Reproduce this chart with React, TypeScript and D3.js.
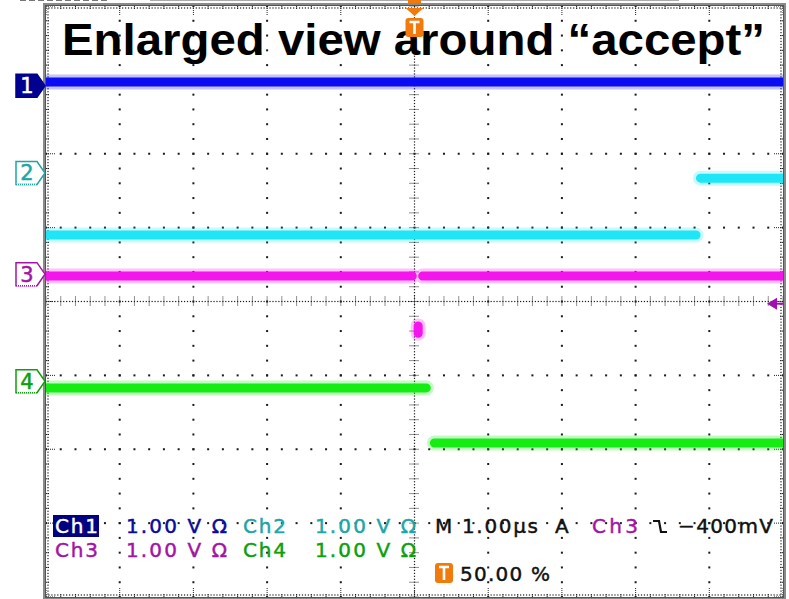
import React, { useEffect, useRef } from 'react';
import * as d3 from 'd3';

const W = 789;
const H = 599;

// time in µs (1 µs/div, trigger at 0), levels in screen divisions from centre
const channelNames = ['Ch1', 'Ch2', 'Ch3', 'Ch4'];
const channelScales = ['1.00 V Ω', '1.00 V Ω', '1.00 V Ω', '1.00 V Ω'];
const groundLevels = [2.92, 1.74, 0.37, -1.08];

const ch1Trace = [[-5, 2.97], [5, 2.97]];
const ch2Trace = [[-5, 0.9], [3.82, 0.9], null, [3.88, 1.67], [5, 1.67]];
const ch3Trace = [[-5, 0.345], [-0.03, 0.345], null, [0.11, 0.345], [5, 0.345], null, [0.05, -0.33], [0.05, -0.43]];
const ch4Trace = [[-5, -1.17], [0.16, -1.17], null, [0.27, -1.915], [5, -1.915]];

const timebase = 'M 1.00µs';
const triggerMode = 'A';
const triggerSource = 'Ch3';
const triggerLevelMv = -400;
const triggerPosition = '50.00 %';
const title = 'Enlarged view around \u201Caccept\u201D';

const traces = [ch1Trace, ch2Trace, ch3Trace, ch4Trace];
const traceColors = ['#0c0cf2', '#1ee6f6', '#f414ec', '#14ec14'];
const textColors = ['#0a0a9c', '#1ea5a8', '#a414a4', '#0ca00c'];
const orange = '#f27a0c';

export default function App() {
    const ref = useRef<SVGSVGElement>(null);

    useEffect(() => {
        const svg = d3.select(ref.current);
        svg.selectAll('*').remove();

        const x = d3.scaleLinear().domain([-5, 5]).range([46, 783]);
        const y = d3.scaleLinear().domain([-4, 4]).range([597, 6]);
        const x0 = x(-5), x1 = x(5), y0 = y(4), y1 = y(-4);

        svg.append('rect').attr('width', W).attr('height', H).attr('fill', '#fff');

        // bit of the scope window frame peeking in at the top
        svg.append('rect').attr('x', 150.5).attr('y', -6).attr('width', 528).attr('height', 6.5)
            .attr('fill', 'none').attr('stroke', '#aaa');
        svg.append('path').attr('d', 'M20,0.5H110').attr('stroke', '#777').attr('stroke-dasharray', '6,3');

        const grid = svg.append('g');
        const minorX = d3.range(-25, 26).map(i => i / 5);
        const minorY = d3.range(-20, 21).map(i => i / 5);
        const fineX = d3.range(-125, 126).map(i => i / 25);
        const fineY = d3.range(-100, 101).map(i => i / 25);
        const dot = (px: number, py: number, s = 2) =>
            grid.append('rect').attr('x', px - s / 2).attr('y', py - s / 2).attr('width', s).attr('height', s).attr('fill', '#1a1a1a');

        // dotted graticule
        d3.range(-4, 5).filter(d => d !== 0).forEach(gx => minorY.forEach(v => dot(x(gx), y(v))));
        d3.range(-3, 4).filter(d => d !== 0).forEach(gy => minorX.forEach(t => dot(x(t), y(gy))));

        // centre cross: fine dots + ticks
        fineX.forEach(t => dot(x(t), y(0), 1.2));
        fineY.forEach(v => dot(x(0), y(v), 1.2));
        minorX.forEach(t => grid.append('line').attr('x1', x(t)).attr('x2', x(t)).attr('y1', y(0) - 5).attr('y2', y(0) + 5)
            .attr('stroke', '#222').attr('stroke-dasharray', '1,1'));
        minorY.forEach(v => grid.append('line').attr('y1', y(v)).attr('y2', y(v)).attr('x1', x(0) - 5).attr('x2', x(0) + 5)
            .attr('stroke', '#222').attr('stroke-dasharray', '1,1'));

        // border ticks
        minorX.forEach(t => {
            const len = Number.isInteger(t) ? 9 : 4;
            grid.append('line').attr('x1', x(t)).attr('x2', x(t)).attr('y1', y0).attr('y2', y0 + len).attr('stroke', '#222').attr('stroke-dasharray', '1,1');
            grid.append('line').attr('x1', x(t)).attr('x2', x(t)).attr('y1', y1).attr('y2', y1 - len).attr('stroke', '#222').attr('stroke-dasharray', '1,1');
        });
        minorY.forEach(v => {
            const len = Number.isInteger(v) ? 9 : 4;
            grid.append('line').attr('y1', y(v)).attr('y2', y(v)).attr('x1', x0).attr('x2', x0 + len).attr('stroke', '#222').attr('stroke-dasharray', '1,1');
            grid.append('line').attr('y1', y(v)).attr('y2', y(v)).attr('x1', x1).attr('x2', x1 - len).attr('stroke', '#222').attr('stroke-dasharray', '1,1');
        });
        fineX.forEach(t => { dot(x(t), y0 + 2, 1.2); dot(x(t), y1 - 2, 1.2); });
        fineY.forEach(v => { dot(x0 + 2, y(v), 1.2); dot(x1 - 2, y(v), 1.2); });

        // frame
        svg.append('rect').attr('x', x0 - 1.5).attr('y', y0 - 1.5).attr('width', x1 - x0 + 3).attr('height', y1 - y0 + 3)
            .attr('fill', 'none').attr('stroke', '#8a8a8a').attr('stroke-width', 3);
        svg.append('rect').attr('x', x0 - 0.5).attr('y', y0 - 0.5).attr('width', x1 - x0 + 1).attr('height', y1 - y0 + 1)
            .attr('fill', 'none').attr('stroke', '#555').attr('stroke-width', 1);

        // title
        svg.append('text').attr('x', 62).attr('y', 55).text(title)
            .attr('font-family', 'Liberation Sans, Arial, sans-serif').attr('font-weight', 'bold').attr('font-size', 44)
            .attr('textLength', 703).attr('lengthAdjust', 'spacingAndGlyphs').attr('fill', '#000');

        // traces
        svg.append('clipPath').attr('id', 'plot').append('rect')
            .attr('x', x0).attr('y', y0).attr('width', x1 - x0).attr('height', y1 - y0);
        const line = d3.line<any>().defined(d => d != null).x(d => x(d[0])).y(d => y(d[1]));
        const tg = svg.append('g').attr('clip-path', 'url(#plot)');
        traces.forEach((tr, i) => {
            tg.append('path').attr('d', line(tr as any)).attr('fill', 'none').attr('stroke', traceColors[i])
                .attr('stroke-width', 15).attr('stroke-linecap', 'round').attr('opacity', 0.25);
            tg.append('path').attr('d', line(tr as any)).attr('fill', 'none').attr('stroke', traceColors[i])
                .attr('stroke-width', 9).attr('stroke-linecap', 'round');
        });

        // channel ground markers
        groundLevels.forEach((lv, i) => {
            const c = y(lv);
            const m = svg.append('g');
            const filled = i === 0;
            m.append('path').attr('d', `M16,${c - 11.5}H37L45,${c}L37,${c + 11.5}H16Z`)
                .attr('fill', filled ? '#000090' : '#fff').attr('stroke', filled ? '#000090' : textColors[i]).attr('stroke-width', 1.5);
            if (!filled) {
                m.append('path').attr('d', `M16,${c + 11.5}H37`).attr('stroke', '#fff').attr('stroke-width', 1.6);
                m.append('path').attr('d', `M16,${c + 11.5}H37`).attr('stroke', textColors[i]).attr('stroke-width', 1.5).attr('stroke-dasharray', '1,1');
            }
            m.append('text').attr('x', 27).attr('y', c + 7.5).attr('text-anchor', 'middle').text(String(i + 1))
                .attr('font-family', 'DejaVu Sans, sans-serif').attr('font-size', 21)
                .attr('fill', filled ? '#fff' : textColors[i]).attr('stroke', filled ? '#fff' : textColors[i]).attr('stroke-width', 0.5);
        });

        // orange "T" badge drawn as shapes (glyph as path)
        const badge = (cx: number, top: number, h: number) => {
            svg.append('rect').attr('x', cx - 9).attr('y', top).attr('width', 18).attr('height', h).attr('rx', 3).attr('fill', orange);
            svg.append('path').attr('d', `M${cx - 5},${top + 4}H${cx + 5}M${cx},${top + 4}V${top + h - 3}`)
                .attr('stroke', '#fff').attr('stroke-width', 2.6).attr('fill', 'none');
        };

        // trigger position marker at top
        const tx = x(0);
        svg.append('rect').attr('x', tx - 6.5).attr('y', 0).attr('width', 13).attr('height', 3).attr('fill', orange);
        svg.append('path').attr('d', `M${tx - 9},8H${tx + 9}L${tx},16Z`).attr('fill', orange);
        badge(tx, 18, 19);

        // trigger level marker at right
        const trigLevel = groundLevels[2] + triggerLevelMv / 1000;
        const ty = y(trigLevel);
        svg.append('path').attr('d', `M767,${ty}L777,${ty - 6}V${ty + 6}Z`).attr('fill', '#a010b0');
        svg.append('path').attr('d', `M777,${ty}H783`).attr('stroke', '#a010b0').attr('stroke-width', 2);

        // readouts
        const font = 'DejaVu Sans, sans-serif';
        const rd = (s: string, px: number, py: number, len: number, fill: string) =>
            svg.append('text').attr('x', px).attr('y', py).text(s).attr('font-family', font).attr('font-size', 20)
                .attr('textLength', len).attr('lengthAdjust', 'spacing').attr('fill', fill)
                .attr('stroke', fill).attr('stroke-width', 0.45);
        svg.append('rect').attr('x', 53).attr('y', 515).attr('width', 46).attr('height', 22).attr('fill', '#000080');
        channelNames.forEach((name, i) => {
            const row = Math.floor(i / 2), col = i % 2;
            const by = 533 + row * 24;
            rd(name, 55 + col * 188, by, 43, i === 0 ? '#fff' : textColors[i]);
            rd(channelScales[i], 126 + col * 189, by, 101, textColors[i]);
        });
        rd(timebase, 435, 533, 103, '#111');
        rd(triggerMode, 555, 533, 16, '#111');
        rd(triggerSource, 592, 533, 46, textColors[2]);
        svg.append('path').attr('d', 'M653,521H659L661,532H667').attr('fill', 'none').attr('stroke', '#111').attr('stroke-width', 2.2);
        rd(`\u2212${Math.abs(triggerLevelMv)}mV`, 678, 533, 95, '#111');
        badge(444, 563, 20);
        rd(triggerPosition, 460, 581, 90, '#111');
    }, []);

    return (
        <div>
            <svg ref={ref} width={W} height={H} style={{ display: 'block', position: 'absolute', left: 0, top: 0 }} />
        </div>
    );
}
